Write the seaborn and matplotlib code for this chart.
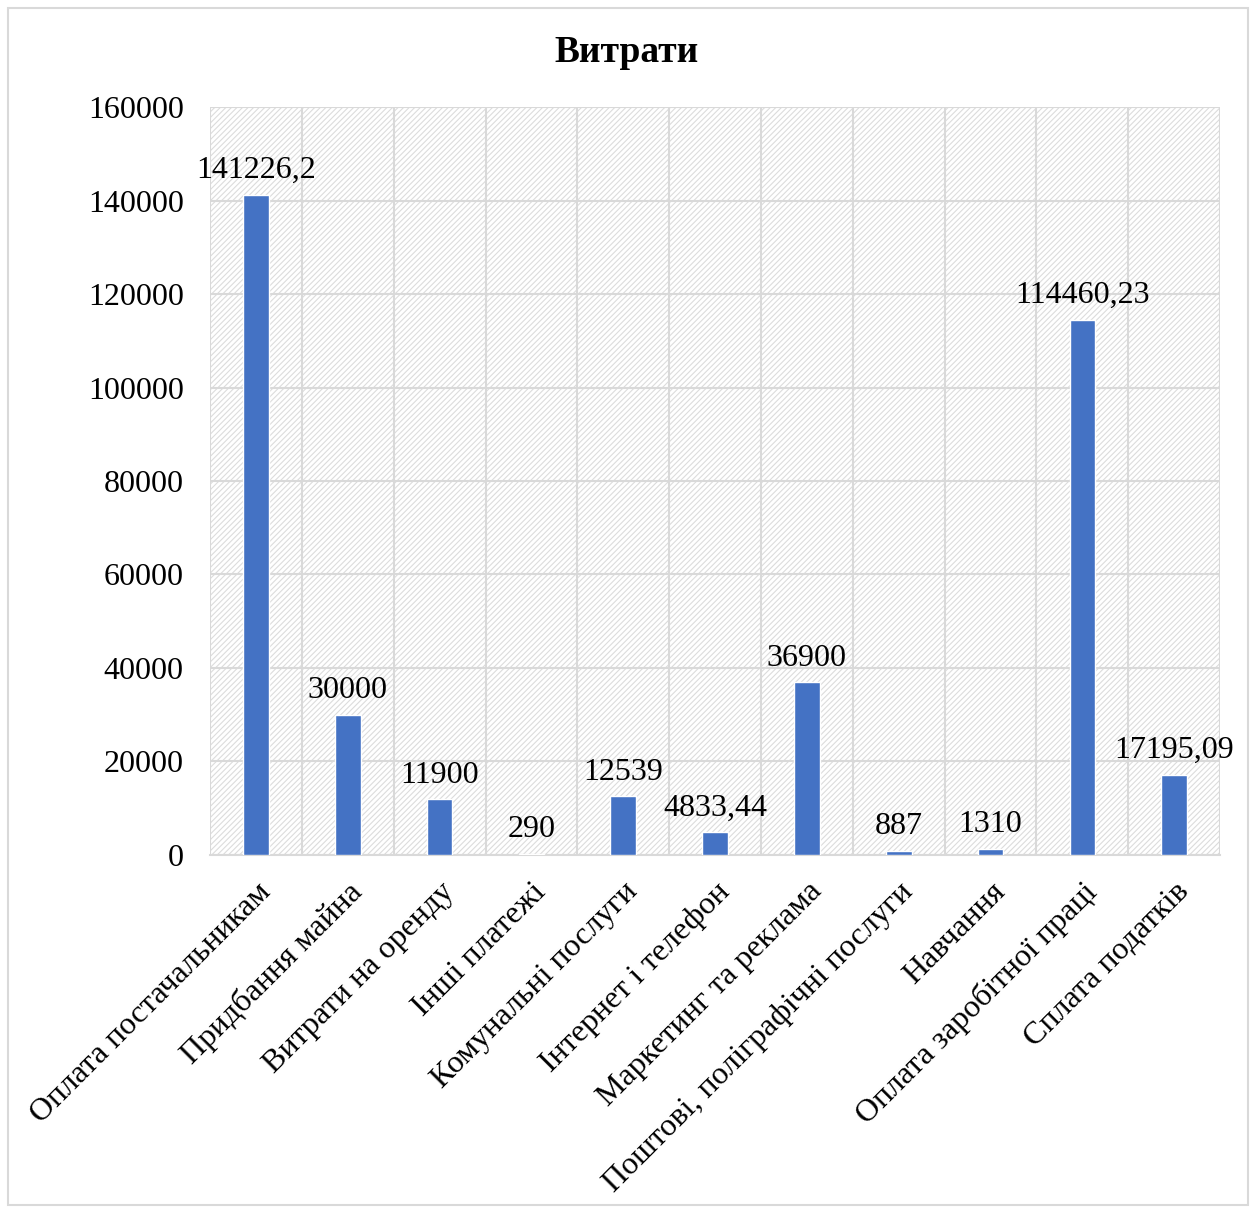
import matplotlib
matplotlib.use("Agg")
import matplotlib.pyplot as plt
from matplotlib.patches import Rectangle
import seaborn as sns
import pandas as pd

categories = [
    "Оплата постачальникам",
    "Придбання майна",
    "Витрати на оренду",
    "Інші платежі",
    "Комунальні послуги",
    "Інтернет і телефон",
    "Маркетинг та реклама",
    "Поштові, поліграфічні послуги",
    "Навчання",
    "Оплата заробітної праці",
    "Сплата податків",
]
values = [141226.2, 30000, 11900, 290, 12539, 4833.44, 36900, 887, 1310, 114460.23, 17195.09]
value_labels = ["141226,2", "30000", "11900", "290", "12539", "4833,44",
                "36900", "887", "1310", "114460,23", "17195,09"]
y_ticks = [0, 20000, 40000, 60000, 80000, 100000, 120000, 140000, 160000]

df = pd.DataFrame({"cat": categories, "val": values})

sns.set_theme(style="white")
plt.rcParams["font.family"] = ["Liberation Serif", "DejaVu Serif"]
plt.rcParams["text.color"] = "black"
plt.rcParams["xtick.color"] = "black"
plt.rcParams["ytick.color"] = "black"
plt.rcParams["hatch.linewidth"] = 0.8

fig = plt.figure(figsize=(12.54, 12.11), dpi=100)
ax = fig.add_axes([0.1675, 0.294, 0.8055, 0.6176])

# hatched plot-area background
ax.add_patch(Rectangle((0, 0), 1, 1, transform=ax.transAxes, fill=False,
                       hatch="//////", edgecolor="#dcdcdc", linewidth=0, zorder=0))

sns.barplot(data=df, x="cat", y="val", color="#4472C4", width=0.28,
            saturation=1, ax=ax, zorder=3)
ax.bar_label(ax.containers[0], labels=value_labels, padding=7, fontsize=23)

ax.set_xlim(-0.5, len(categories) - 0.5)
ax.set_ylim(0, 160000)
ax.set_yticks(y_ticks)
ax.set_yticklabels([str(t) for t in y_ticks], fontsize=23)
ax.set_xticks(range(len(categories)))
ax.set_xticklabels(categories, rotation=45, ha="right", rotation_mode="anchor",
                   fontsize=23)
ax.set_xticks([i - 0.5 for i in range(len(categories) + 1)], minor=True)
ax.tick_params(axis="both", which="both", length=0)
ax.tick_params(axis="x", pad=16)
ax.tick_params(axis="y", pad=19)
ax.grid(True, axis="y", which="major", color="#d9d9d9", linewidth=1.5, zorder=1)
ax.grid(True, axis="x", which="minor", color="#d9d9d9", linewidth=1.5, zorder=1)
ax.set_axisbelow(True)
for s in ["top", "right", "left"]:
    ax.spines[s].set_visible(False)
ax.spines["bottom"].set_color("#d9d9d9")
ax.spines["bottom"].set_linewidth(1.5)
ax.set_xlabel("")
ax.set_ylabel("")

fig.text(0.5, 0.957, "Витрати", ha="center", va="center", fontsize=27,
         fontweight="bold")

# outer chart border
fig.patches.append(Rectangle((0.006, 0.005), 0.989, 0.988, transform=fig.transFigure,
                             fill=False, edgecolor="#d9d9d9", linewidth=1.5))

fig.savefig("out.png", dpi=100)
